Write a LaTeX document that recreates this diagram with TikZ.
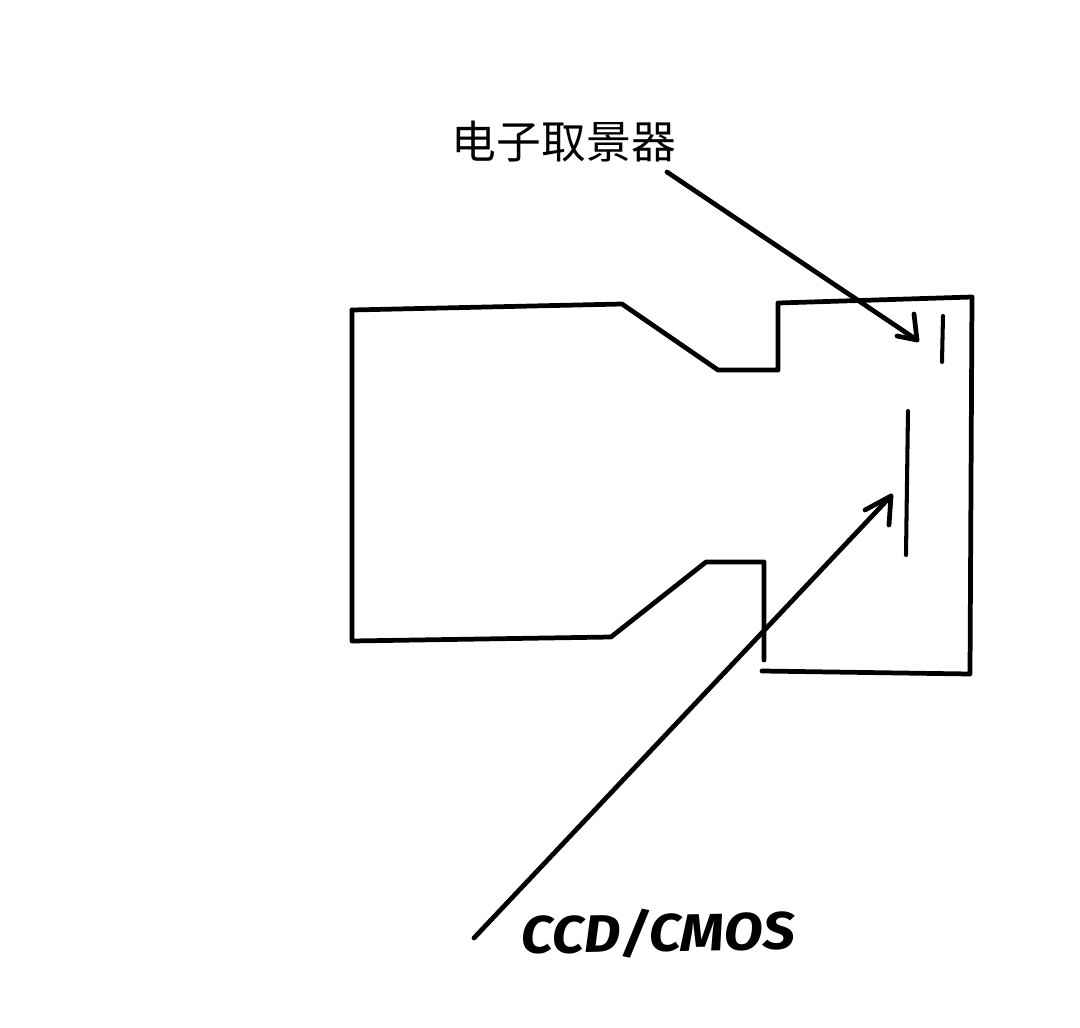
\documentclass[tikz,border=0pt]{standalone}
\usepackage{fontspec}
\setmainfont{Liberation Sans}
\newfontfamily\cjk{Noto Sans CJK SC}
\newfontfamily\handfont{Fira Sans}
\usetikzlibrary{
  arrows.meta
}

\begin{document}
\begin{tikzpicture}[x=0.02cm, y=-0.02cm]

\tikzset{
  sketch/.style={
    line width=2.7pt,
    line cap=round,
    line join=round
  },
  thinsketch/.style={
    line width=2.3pt,
    line cap=round
  }
}

\useasboundingbox (0,0) rectangle (1080,1028);

% Nodes labels
\node[font=\cjk\fontsize{25.5}{30}\selectfont, inner sep=0pt] (viewfinderlabel) at (564,142) {电子取景器};
\node[font=\handfont\bfseries\itshape\fontsize{30}{36}\selectfont, inner sep=0pt, rotate=1, xscale=1.08] (sensorlabel) at (658,933) {CCD/CMOS};

% Nodes body outline
\coordinate (a1) at (352,310);
\coordinate (a2) at (622,304);
\coordinate (a3) at (718,370);
\coordinate (a4) at (778,370);
\coordinate (a5) at (778,303);
\coordinate (a6) at (972,297);
\coordinate (a7) at (970,674);
\coordinate (a8) at (762,671);
\coordinate (b1) at (764,660);
\coordinate (b2) at (764,562);
\coordinate (b3) at (706,562);
\coordinate (b4) at (611,637);
\coordinate (b5) at (352,641);

% Nodes screens
\coordinate (v1) at (943,316);
\coordinate (v2) at (942,362);
\coordinate (s1) at (908,411);
\coordinate (s2) at (906,555);

% Nodes arrows
\coordinate (p1) at (667,172);
\coordinate (p2) at (917,340);
\coordinate (p3) at (914,314);
\coordinate (p4) at (897,336);
\coordinate (q1) at (474,938);
\coordinate (q2) at (891,496);
\coordinate (q3) at (865,510);
\coordinate (q4) at (889,525);

% Body
\draw[sketch] (a1) -- (a2) -- (a3) -- (a4) -- (a5) -- (a6) -- (a7) -- (a8);
\draw[sketch] (b1) -- (b2) -- (b3) -- (b4) -- (b5) -- (a1);

% Screens
\draw[thinsketch] (v1) -- (v2);
\draw[thinsketch] (s1) -- (s2);

% Arrows
\draw[sketch] (p1) -- (p2);
\draw[sketch] (p3) -- (p2) -- (p4);
\draw[sketch] (q1) -- (q2);
\draw[sketch] (q3) -- (q2) -- (q4);

\end{tikzpicture}
\end{document}
